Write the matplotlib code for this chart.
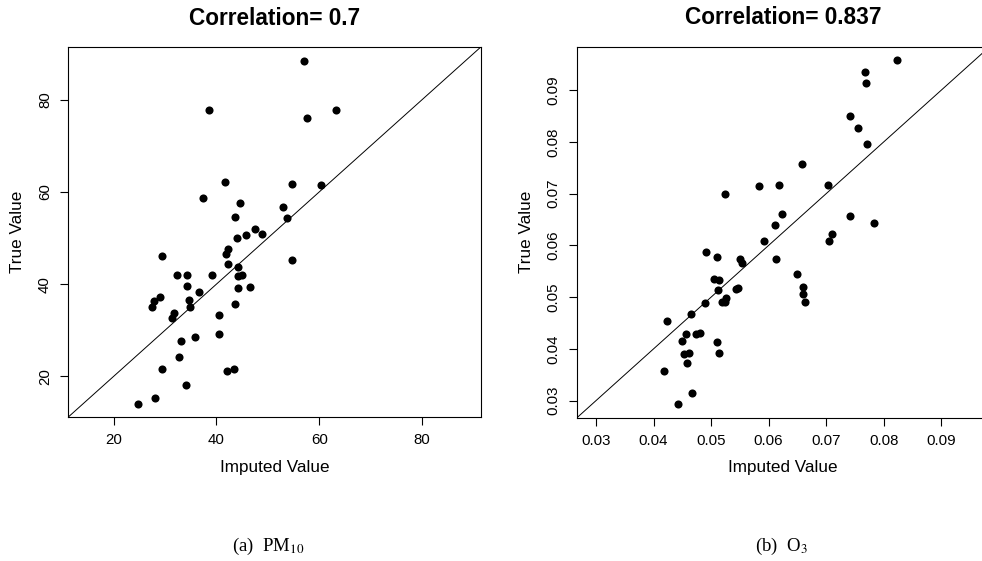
import matplotlib
matplotlib.use("Agg")
import matplotlib.pyplot as plt
from matplotlib import font_manager as fm

plt.rcParams["font.family"] = ["Liberation Sans", "DejaVu Sans"]
plt.rcParams["mathtext.fontset"] = "stix"

# PM10: imputed vs true
pm10_imputed = [38.6, 41.7, 37.4, 44.5, 43.6, 57.1, 63.2, 57.6, 54.7, 60.4,
                53.0, 53.8, 47.5, 48.9, 54.8, 46.6, 45.7, 44.0, 42.3, 41.8,
                29.5, 42.2, 44.3, 45.0, 44.3, 32.4, 34.3, 39.1, 34.2, 44.3,
                36.7, 29.1, 27.8, 34.6, 27.5, 34.8, 43.6, 31.7, 31.3, 40.5,
                40.5, 33.2, 35.9, 32.7, 29.5, 42.1, 43.4, 34.0, 28.1, 24.7]
pm10_true = [77.8, 62.2, 58.7, 57.6, 54.5, 88.5, 77.7, 76.1, 61.8, 61.6,
             56.8, 54.4, 51.9, 50.8, 45.2, 39.3, 50.6, 50.0, 47.6, 46.6,
             46.1, 44.3, 43.7, 42.1, 41.7, 42.1, 42.1, 41.9, 39.5, 39.1,
             38.2, 37.3, 36.3, 36.5, 35.0, 35.0, 35.6, 33.7, 32.6, 33.4,
             29.1, 27.6, 28.6, 24.3, 21.5, 21.2, 21.7, 18.2, 15.4, 14.1]

# O3: imputed vs true
o3_imputed = [0.0824, 0.0767, 0.0769, 0.0742, 0.0755, 0.0771, 0.0658, 0.0525, 0.0583, 0.0618,
              0.0704, 0.0624, 0.0742, 0.0783, 0.0611, 0.0711, 0.0705, 0.0592, 0.0613, 0.0650,
              0.0659, 0.0660, 0.0664, 0.0491, 0.0511, 0.0551, 0.0553, 0.0505, 0.0513, 0.0512,
              0.0543, 0.0547, 0.0526, 0.0519, 0.0525, 0.0490, 0.0465, 0.0424, 0.0456, 0.0474,
              0.0480, 0.0449, 0.0510, 0.0513, 0.0453, 0.0461, 0.0458, 0.0419, 0.0466, 0.0442]
o3_true = [0.0958, 0.0935, 0.0914, 0.0851, 0.0828, 0.0797, 0.0758, 0.0700, 0.0714, 0.0717,
           0.0717, 0.0660, 0.0657, 0.0643, 0.0640, 0.0622, 0.0609, 0.0608, 0.0573, 0.0544,
           0.0520, 0.0507, 0.0491, 0.0588, 0.0577, 0.0574, 0.0567, 0.0535, 0.0534, 0.0514,
           0.0515, 0.0518, 0.0499, 0.0491, 0.0490, 0.0488, 0.0468, 0.0454, 0.0429, 0.0429,
           0.0431, 0.0415, 0.0413, 0.0392, 0.0390, 0.0392, 0.0372, 0.0358, 0.0314, 0.0293]

titles = ["Correlation= 0.7", "Correlation= 0.837"]
captions = [r"(a)  PM$_{10}$", r"(b)  O$_3$"]
pm10_ticks = [20, 40, 60, 80]
o3_ticks = [0.03, 0.04, 0.05, 0.06, 0.07, 0.08, 0.09]


def bold_font():
    # pick the regular-width Liberation Sans Bold, not the Narrow variant
    for path in fm.findSystemFonts():
        if path.endswith("LiberationSans-Bold.ttf"):
            return fm.FontProperties(fname=path)
    return fm.FontProperties(family="DejaVu Sans", weight="bold")


def r_range(x, y):
    # R-style axis range: data range extended by 4% on each side
    lo = min(min(x), min(y))
    hi = max(max(x), max(y))
    pad = 0.04 * (hi - lo)
    return lo - pad, hi + pad


def draw_panel(ax, x, y, ticks, title, fmt, title_font):
    lim = r_range(x, y)
    ax.scatter(x, y, s=34, color="black", linewidths=0, zorder=3)
    ax.axline((lim[0], lim[0]), slope=1, color="black", lw=0.7)
    ax.set_xlim(lim)
    ax.set_ylim(lim)
    ax.set_xticks(ticks)
    ax.set_yticks(ticks)
    ax.set_xticklabels([fmt(t) for t in ticks], fontsize=10.8)
    ax.set_yticklabels([fmt(t) for t in ticks], fontsize=10.8, rotation=90, va="center")
    ax.tick_params(direction="out", length=5.5, width=0.8, pad=6)
    for sp in ax.spines.values():
        sp.set_linewidth(0.8)
    ax.set_xlabel("Imputed Value", fontsize=12.3, labelpad=9)
    ax.set_ylabel("True Value", fontsize=12.3, labelpad=9)
    ax.set_title(title, fontproperties=title_font, pad=16)


title_font = bold_font()
title_font.set_size(16.3)

fig = plt.figure(figsize=(9.82, 5.61), dpi=100)
ax1 = fig.add_axes([0.0692, 0.2561, 0.4206, 0.6604])
ax2 = fig.add_axes([0.5873, 0.2550, 0.4206, 0.6620])

draw_panel(ax1, pm10_imputed, pm10_true, pm10_ticks, titles[0], lambda t: f"{t:d}", title_font)
draw_panel(ax2, o3_imputed, o3_true, o3_ticks, titles[1], lambda t: f"{t:.2f}", title_font)

fig.text(0.2735, 0.008, captions[0], ha="center", va="bottom",
         fontsize=13.5, family=["Liberation Serif", "DejaVu Serif"])
fig.text(0.7955, 0.008, captions[1], ha="center", va="bottom",
         fontsize=13.5, family=["Liberation Serif", "DejaVu Serif"])

fig.savefig("out.png", dpi=100)
